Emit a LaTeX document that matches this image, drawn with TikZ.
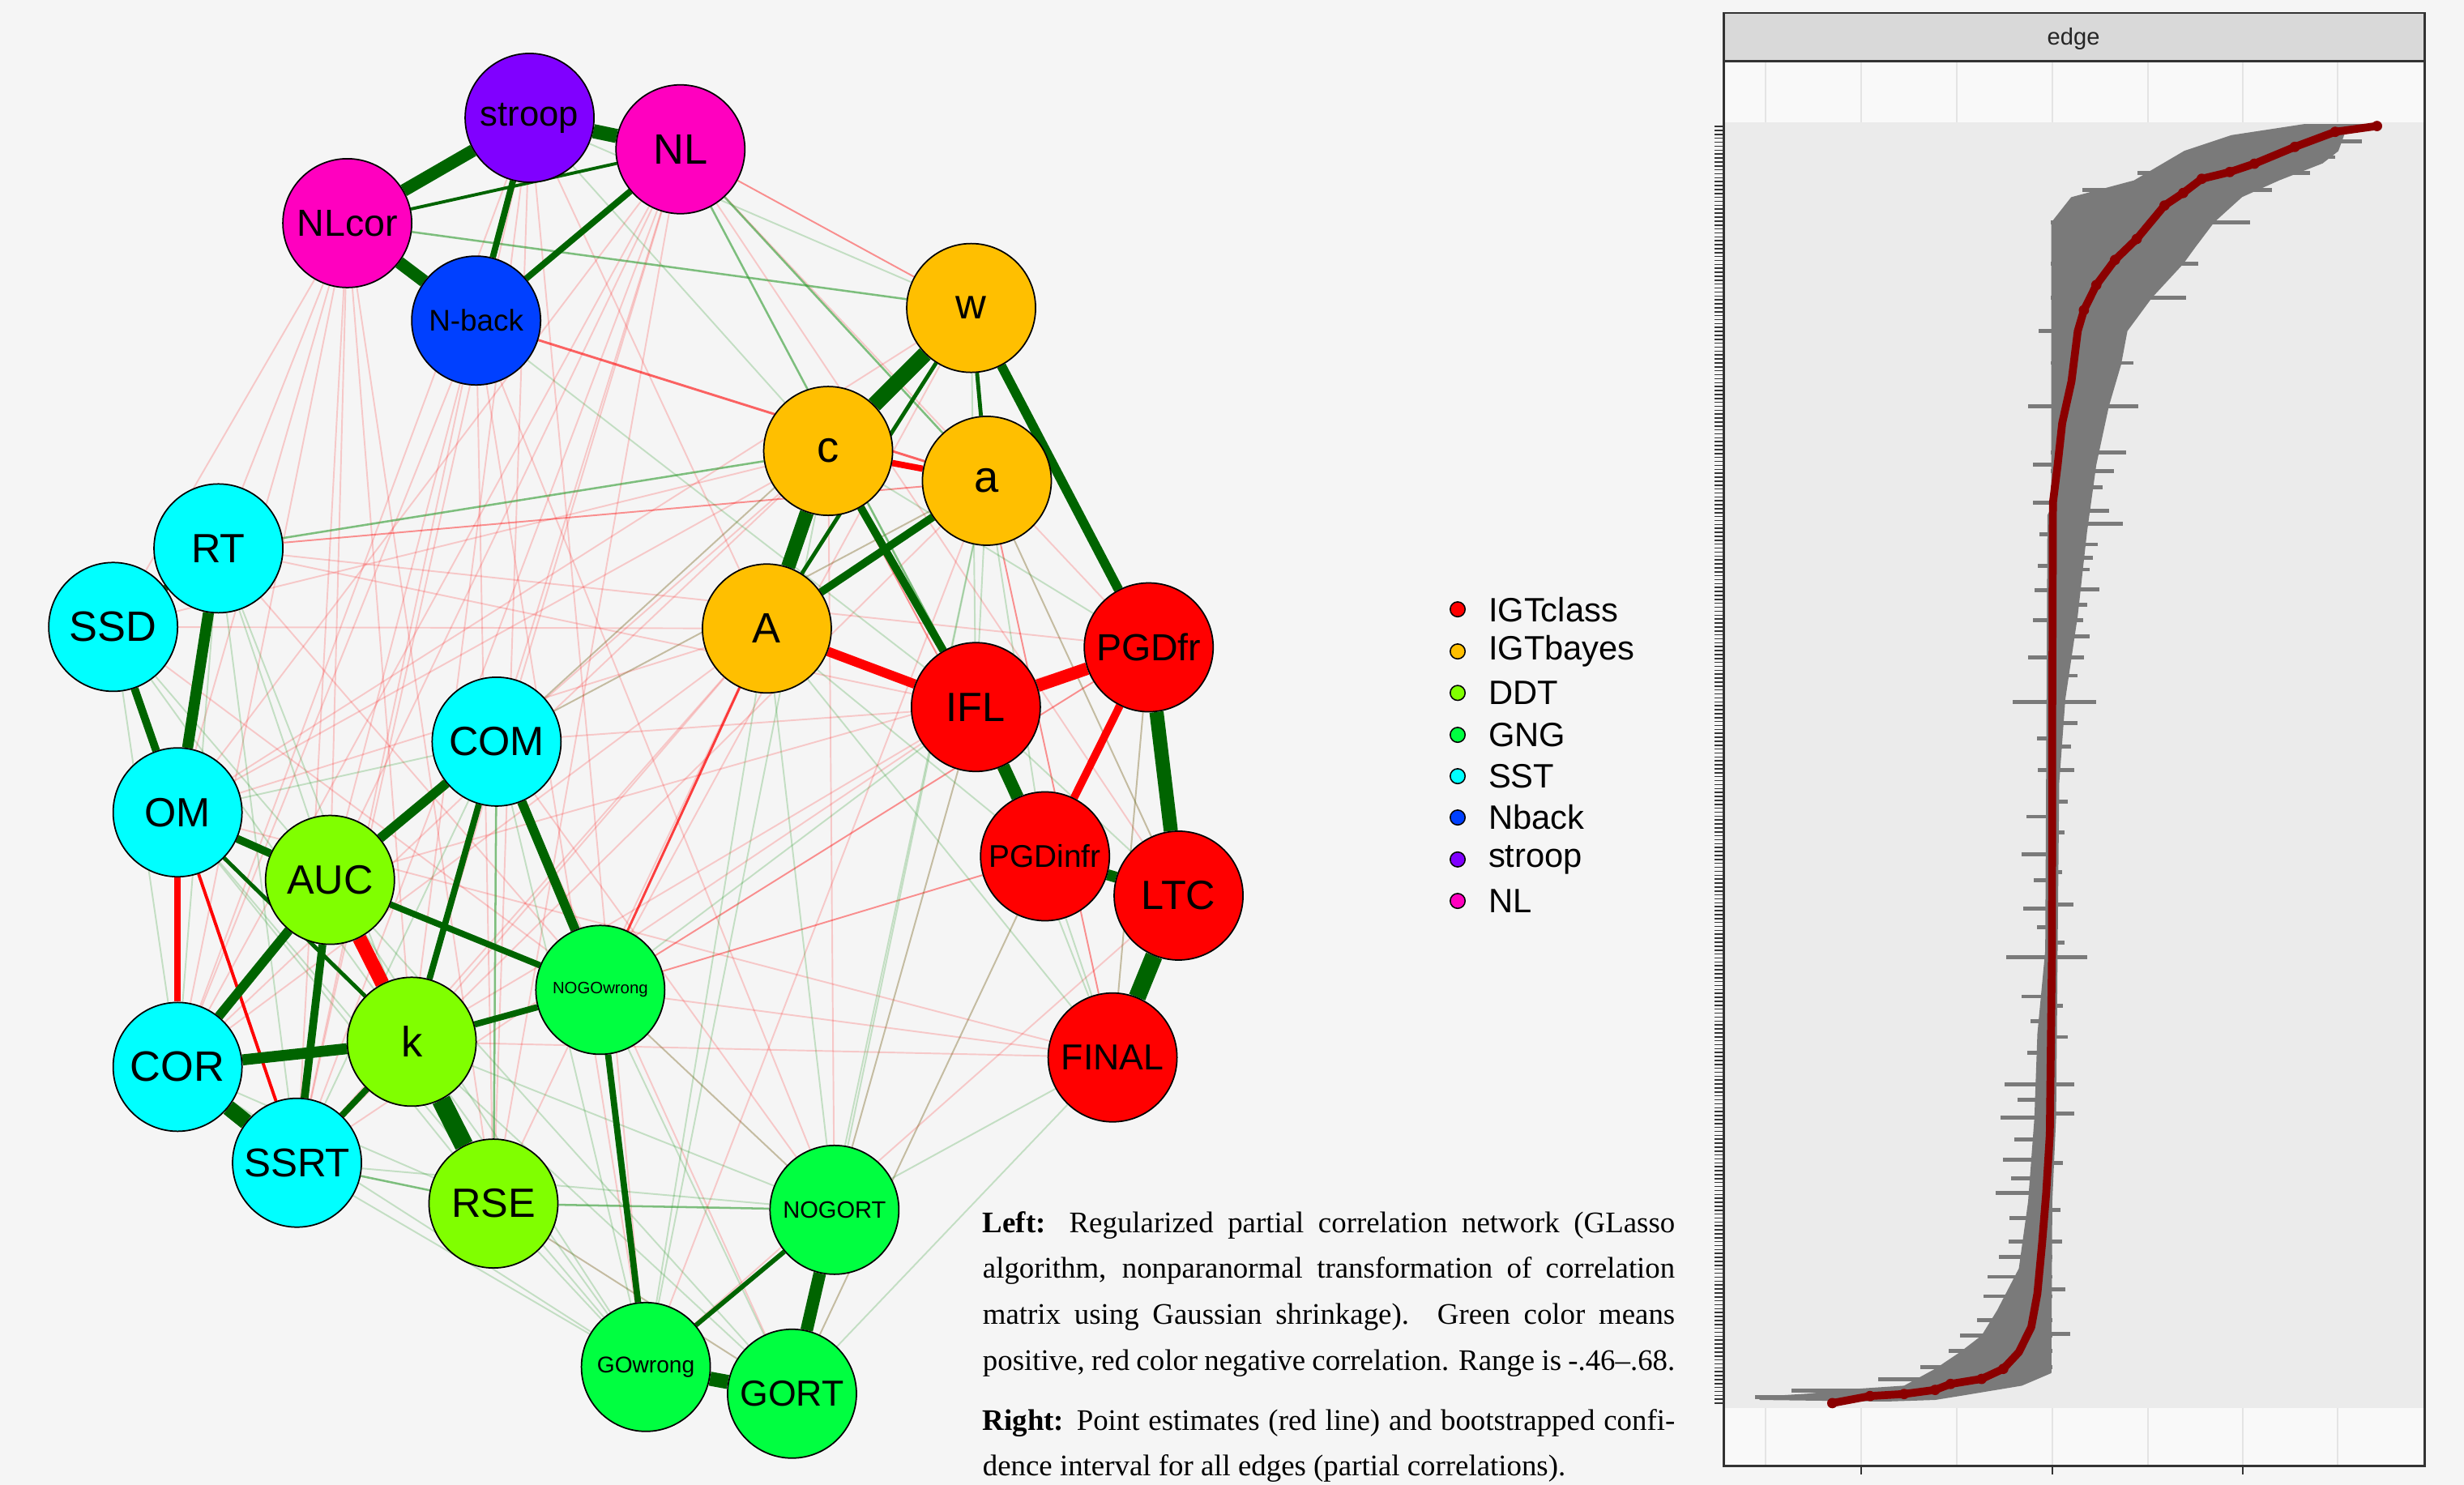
\documentclass[tikz,border=0pt]{standalone}
\usepackage{fontspec}
\setmainfont{Liberation Serif}
\newfontfamily\arial{Liberation Sans}
\usetikzlibrary{backgrounds}
\definecolor{pagebg}{HTML}{F5F5F5}
\definecolor{cClass}{HTML}{FF0000}
\definecolor{cBayes}{HTML}{FFBF00}
\definecolor{cDDT}{HTML}{80FF00}
\definecolor{cGNG}{HTML}{00FF40}
\definecolor{cSST}{HTML}{00FFFF}
\definecolor{cNback}{HTML}{0040FF}
\definecolor{cStroop}{HTML}{8000FF}
\definecolor{cNL}{HTML}{FF00BF}
\definecolor{dkgreen}{HTML}{006400}
\definecolor{ltgreen}{HTML}{2E9A2E}
\definecolor{ciGray}{HTML}{7A7A7A}
\definecolor{ptRed}{HTML}{8B0000}
\definecolor{bandbg}{HTML}{EBEBEB}
\definecolor{stripbg}{HTML}{D9D9D9}
\definecolor{framec}{HTML}{333333}
\definecolor{gridc}{HTML}{E4E4E4}
\tikzset{
  vn/.style={circle, draw=black, line width=0.9pt, minimum size=82pt, inner sep=0pt,
    font=\arial\fontsize{#1}{#1}\selectfont},
  posedge/.style={draw=dkgreen, line width=#1},
  negedge/.style={draw=red, line width=#1},
  fg/.style={draw=ltgreen, line width=1pt, opacity=#1},
  fr/.style={draw=red, line width=1pt, opacity=#1},
  legdot/.style={circle, draw=black, line width=0.8pt, minimum size=9.5pt, inner sep=0pt},
  legtext/.style={anchor=west, inner sep=0pt, font=\arial\fontsize{21.5}{21.5}\selectfont},
  captext/.style={anchor=base west, inner sep=0pt, font=\fontsize{19}{19}\selectfont},
  cibar/.style={fill=ciGray},
}
\begin{document}
\begin{tikzpicture}[x=1pt,y=-1pt]
\useasboundingbox (0,0) rectangle (1568,945.1);

% ---------------- network nodes ----------------
\node[vn=22.5, fill=cStroop] (stroop) at (337,75) {stroop};
\node[vn=27, fill=cNL] (NL) at (433,95) {NL};
\node[vn=24, fill=cNL] (NLcor) at (221,142) {NLcor};
\node[vn=19, fill=cNback] (Nback) at (303,204) {N-back};
\node[vn=27, fill=cBayes] (w) at (618,196) {w};
\node[vn=28, fill=cBayes] (c) at (527,287) {c};
\node[vn=28, fill=cBayes] (a) at (628,306) {a};
\node[vn=27, fill=cBayes] (A) at (488,400) {A};
\node[vn=24, fill=cClass] (PGDfr) at (731,412) {PGDfr};
\node[vn=26, fill=cClass] (IFL) at (621,450) {IFL};
\node[vn=20, fill=cClass] (PGDinfr) at (665,545) {PGDinfr};
\node[vn=26, fill=cClass] (LTC) at (750,570) {LTC};
\node[vn=23, fill=cClass] (FINAL) at (708,673) {FINAL};
\node[vn=26, fill=cSST] (RT) at (139,349) {RT};
\node[vn=27, fill=cSST] (SSD) at (72,399) {SSD};
\node[vn=26, fill=cSST] (OM) at (113,517) {OM};
\node[vn=26, fill=cSST] (COM) at (316,472) {COM};
\node[vn=26, fill=cDDT] (AUC) at (210,560) {AUC};
\node[vn=10.5, fill=cGNG] (NOGOwrong) at (382,630) {NOGOwrong};
\node[vn=27, fill=cSST] (COR) at (113,679) {COR};
\node[vn=27, fill=cDDT] (k) at (262,663) {k};
\node[vn=25.5, fill=cSST] (SSRT) at (189,740) {SSRT};
\node[vn=26, fill=cDDT] (RSE) at (314,766) {RSE};
\node[vn=15, fill=cGNG] (NOGORT) at (531,770) {NOGORT};
\node[vn=14.5, fill=cGNG] (GOwrong) at (411,870) {GOwrong};
\node[vn=23, fill=cGNG] (GORT) at (504,887) {GORT};

% ---------------- edges (behind nodes) ----------------
\begin{scope}[on background layer]
\fill[pagebg] (0,0) rectangle (1568,945.1);
% faint negative edges
\foreach \p/\q in {NLcor/OM, NLcor/COR, NLcor/SSRT, NLcor/AUC, NLcor/k, NLcor/RSE, NLcor/SSD, NLcor/RT,
  NL/COR, NL/SSRT, NL/AUC, NL/k, NL/RSE, NL/OM, NL/COM, NL/PGDfr, NL/LTC,
  stroop/COR, stroop/SSRT, stroop/k, stroop/RSE, stroop/AUC, stroop/GOwrong, stroop/A,
  Nback/RSE, Nback/GOwrong, Nback/NOGORT, Nback/SSRT, Nback/COR,
  RT/IFL, RT/PGDfr, RT/NOGOwrong, SSD/c, SSD/A, SSD/NOGOwrong,
  A/COR, A/SSRT, A/RSE, A/OM, A/k, c/OM, c/COR, c/COM, c/NOGORT,
  a/SSRT, a/COM, a/GOwrong, a/LTC, w/OM, w/COM, w/NOGOwrong,
  IFL/COM, IFL/SSRT, IFL/k, IFL/NOGORT, PGDfr/AUC, PGDfr/FINAL,
  PGDinfr/GORT, LTC/GOwrong, FINAL/OM, FINAL/NOGOwrong, FINAL/k,
  COM/NOGORT, COM/GORT, RSE/GORT, NOGOwrong/NOGORT}
  {\draw[fr=0.18] (\p) -- (\q);}
\foreach \p/\q in {NL/w, RT/a, PGDinfr/NOGOwrong, c/PGDinfr, a/FINAL, PGDfr/NOGOwrong}
  {\draw[fr=0.42] (\p) -- (\q);}
\draw[fr=0.6, line width=1.5pt] (Nback) -- (a);
\draw[fr=0.75, line width=1.5pt] (A) -- (NOGOwrong);
% faint positive edges
\foreach \p/\q in {stroop/w, stroop/c, Nback/IFL,
  RT/AUC, RT/k, RT/COR, RT/SSRT, SSD/AUC, SSD/k, SSD/SSRT, SSD/COR,
  OM/NOGOwrong, OM/RSE, OM/GOwrong, COM/a, COM/w, COM/GOwrong, COM/SSRT, COM/OM,
  AUC/GOwrong, AUC/RSE, AUC/GORT, k/GOwrong, k/NOGORT, k/GORT,
  SSRT/GOwrong, SSRT/NOGORT, COR/RSE, COR/GOwrong,
  RSE/GOwrong, RSE/GORT, NOGOwrong/NOGORT, NOGOwrong/GORT, NOGOwrong/IFL,
  A/GOwrong, A/NOGORT, c/GOwrong, a/GORT, a/NOGORT,
  w/IFL, a/IFL, a/PGDinfr, a/LTC, IFL/LTC, IFL/FINAL, PGDinfr/FINAL, PGDfr/FINAL,
  NOGORT/IFL, GORT/PGDinfr, GORT/FINAL, NOGORT/FINAL, c/PGDfr, A/PGDinfr, A/FINAL}
  {\draw[fg=0.25] (\p) -- (\q);}
\foreach \p/\q in {NLcor/w, NL/IFL, NL/a, RT/c, SSRT/RSE, RSE/NOGORT, COM/RSE}
  {\draw[fg=0.6, line width=1.3pt] (\p) -- (\q);}
% strong edges
\draw[posedge=9] (stroop) -- (NL);
\draw[posedge=8] (stroop) -- (NLcor);
\draw[posedge=8] (NLcor) -- (Nback);
\draw[posedge=4] (stroop) -- (Nback);
\draw[posedge=4] (NL) -- (Nback);
\draw[posedge=2] (NL) -- (NLcor);
\draw[posedge=10] (w) -- (c);
\draw[posedge=6] (w) -- (PGDfr);
\draw[posedge=2.5] (w) -- (a);
\draw[posedge=2.5] (w) -- (A);
\draw[negedge=4] (c) -- (a);
\draw[posedge=9] (c) -- (A);
\draw[posedge=5] (a) -- (A);
\draw[posedge=5] (c) -- (IFL);
\draw[negedge=6] (A) -- (IFL);
\draw[negedge=8] (IFL) -- (PGDfr);
\draw[negedge=5] (PGDfr) -- (PGDinfr);
\draw[posedge=9] (PGDfr) -- (LTC);
\draw[posedge=8] (IFL) -- (PGDinfr);
\draw[posedge=7] (PGDinfr) -- (LTC);
\draw[posedge=11] (LTC) -- (FINAL);
\draw[posedge=7] (RT) -- (OM);
\draw[posedge=5] (SSD) -- (OM);
\draw[posedge=4] (RT) -- (SSD);
\draw[posedge=5] (OM) -- (AUC);
\draw[negedge=4] (OM) -- (COR);
\draw[negedge=2] (OM) -- (SSRT);
\draw[posedge=2.5] (OM) -- (k);
\draw[posedge=6] (COM) -- (AUC);
\draw[posedge=4] (COM) -- (k);
\draw[posedge=6] (COM) -- (NOGOwrong);
\draw[negedge=9] (AUC) -- (k);
\draw[posedge=6] (AUC) -- (COR);
\draw[posedge=5] (AUC) -- (SSRT);
\draw[posedge=4] (AUC) -- (NOGOwrong);
\draw[posedge=7] (COR) -- (k);
\draw[posedge=10] (COR) -- (SSRT);
\draw[posedge=4] (k) -- (SSRT);
\draw[posedge=12] (k) -- (RSE);
\draw[posedge=4] (k) -- (NOGOwrong);
\draw[posedge=4] (NOGOwrong) -- (GOwrong);
\draw[posedge=3] (NOGORT) -- (GOwrong);
\draw[posedge=8] (NOGORT) -- (GORT);
\draw[posedge=9] (GOwrong) -- (GORT);
\end{scope}

% ---------------- legend ----------------
\node[legdot, fill=cClass] (d1) at (927.6,387.8) {};
\node[legdot, fill=cBayes] (d2) at (927.6,414.6) {};
\node[legdot, fill=cDDT] (d3) at (927.6,441) {};
\node[legdot, fill=cGNG] (d4) at (927.6,467.7) {};
\node[legdot, fill=cSST] (d5) at (927.6,494) {};
\node[legdot, fill=cNback] (d6) at (927.6,520.3) {};
\node[legdot, fill=cStroop] (d7) at (927.6,547) {};
\node[legdot, fill=cNL] (d8) at (927.6,573.4) {};
\node[legtext] (l1) at (947,387.8) {IGTclass};
\node[legtext] (l2) at (947,414.6) {IGTbayes};
\node[legtext] (l3) at (947,441) {DDT};
\node[legtext] (l4) at (947,467.7) {GNG};
\node[legtext] (l5) at (947,494) {SST};
\node[legtext] (l6) at (947,520.3) {Nback};
\node[legtext] (l7) at (947,547) {stroop};
\node[legtext] (l8) at (947,573.4) {NL};

% ---------------- right panel ----------------
\fill[pagebg!60!white] (1097,39) rectangle (1543,933);
\foreach \gx in {1123.6,1184.5,1245.3,1306.1,1366.7,1427.3,1487.7}
  {\draw[gridc, line width=0.9pt] (\gx,39) -- (\gx,933);}
\fill[bandbg] (1097,77.7) rectangle (1543,896);
% CI band
\fill[ciGray] (1466,79) -- (1515.6,79) -- (1515.6,81.5) -- (1491.9,85.5) -- (1488,96.2) -- (1478,104)
  -- (1450.4,114.8) -- (1426.8,125.4) -- (1409,141.5) -- (1397,157.4) -- (1389.3,168)
  -- (1369.5,189.4) -- (1353.8,210.7) -- (1349.8,232) -- (1342,258.6) -- (1334,295.9)
  -- (1328.1,338.6) -- (1322.2,391.8) -- (1314.3,445) -- (1310.4,498.4) -- (1309.4,604.9)
  -- (1308.4,711.4) -- (1306,764.7) -- (1305.4,873.9) -- (1286.7,881.9) -- (1250,888)
  -- (1231.4,891) -- (1200,892) -- (1120,891) -- (1118,889) -- (1150,887) -- (1180,884)
  -- (1211.7,881.9) -- (1231.4,871.2) -- (1247.2,860.6) -- (1261,850) -- (1270.9,833.9)
  -- (1284.7,807.3) -- (1290.6,764.7) -- (1294.6,711.4) -- (1296.5,658) -- (1301.5,604.9)
  -- (1302.9,327.9) -- (1305.4,322.6) -- (1305.4,141.5) -- (1318,125.5) -- (1358,114.8)
  -- (1390,96) -- (1420,86) -- cycle;
% spikes with explicit start and end
\foreach \yy/\xa/\xb in {90/1420/1503,100/1388/1486,110/1360/1470,121/1325/1446,
  141.5/1305/1431.7,168/1305/1399,189.4/1305/1391.2,231/1305/1357.7,258.6/1305/1360.7,
  287.9/1305/1352.8,300/1305/1345,310/1305/1338,325/1305/1342,333.2/1305/1350.8,
  346.5/1305/1335,355/1305/1332,362.5/1305/1330,375/1305/1336,385/1305/1328,
  394.5/1305/1325.7,405/1305/1330,418.5/1305/1326.1,430/1305/1322,446.7/1305/1334,
  460/1305/1322,475/1305/1318,490/1305/1320,510/1305/1316,530/1305/1314,555/1305/1312,
  575.6/1305/1319.2,600/1305/1314,609.2/1305/1328.1,640/1305/1313,660/1305/1316,
  690.1/1305/1320.2,708.8/1305/1320.2,740/1305/1313,770/1305/1311,790/1305/1312,
  820.6/1305/1314.3,848.9/1305/1317.3,
  210.7/1297.5/1306,258.6/1290.6/1306,295.9/1293.6/1306,319.9/1293.6/1306,340/1298/1306,
  360/1297/1306,375.8/1294.6/1306,394.5/1293.6/1306,418.5/1290.6/1306,446.7/1280.8/1306,
  470/1296/1306,490/1297/1306,519.7/1289.6/1306,543.6/1286.7/1306,560/1294/1306,
  578.3/1287.7/1306,590/1296/1306,609.2/1276.8/1306,634.2/1286.7/1306,650/1292/1306,
  670/1290/1306,690.1/1275.8/1306,700/1284/1306,711.4/1272.9/1306,725/1282/1306,
  738.1/1274.8/1306,750/1280/1306,759.4/1269.9/1306,775.4/1278.8/1306,790/1278/1306,
  800/1272/1306,812.6/1265/1306,825/1262/1306,840/1258/1306,850/1247.2/1306,
  860/1240/1306,870/1222/1306,878/1195/1290,885/1140/1240,889/1117/1200}
  {\fill[cibar] (\xa,\yy-1.25) rectangle (\xb,\yy+1.25);}
% point estimates
\draw[ptRed, line width=5pt, line join=round, line cap=round]
  (1512.6,80.2) -- (1486,83.9) -- (1460.3,93.5) -- (1434.6,104.2) -- (1418.9,109.5)
  -- (1401.1,113.8) -- (1389.3,122.8) -- (1377.4,130.8) -- (1359.7,152.1) -- (1345.9,165.4)
  -- (1334,181.4) -- (1326.1,197.4) -- (1322.2,210.7) -- (1318.2,242.7) -- (1312.3,269.3)
  -- (1309.4,295.9) -- (1306.4,319.9) -- (1306,445) -- (1305.8,605) -- (1304.4,722.1)
  -- (1302.1,759.4) -- (1299.5,791.3) -- (1296.5,823.3) -- (1292.6,844.6) -- (1284.7,860.6)
  -- (1274.8,871.2) -- (1261,877.6) -- (1241.3,880.8) -- (1231.4,884.6) -- (1211.7,887.2)
  -- (1190,888.5) -- (1166,893);
\foreach \px/\py in {1512.6/80.2,1486/83.9,1460.3/93.5,1434.6/104.2,1418.9/109.5,1401.1/113.8,
  1389.3/122.8,1377.4/130.8,1359.7/152.1,1345.9/165.4,1334/181.4,1326.1/197.4,
  1274.8/871.2,1261/877.6,1241.3/880.8,1231.4/884.6,1211.7/887.2,1190/888.5,1166/893}
  {\fill[ptRed] (\px,\py) circle (3.3pt);}
% axis ticks
\foreach \i in {0,...,324}
  {\draw[framec, line width=0.8pt] (1091,{80.5+\i*2.508}) -- (1097,{80.5+\i*2.508});}
\foreach \gx in {1184.5,1306.1,1427.3}
  {\draw[framec, line width=1.2pt] (\gx,933) -- (\gx,938.5);}
% strip and frame
\draw[framec, line width=1.2pt, fill=stripbg] (1097,8.3) rectangle (1543,39);
\node[font=\arial\fontsize{15}{15}\selectfont, text=black!85] (striplabel) at (1319.5,24.5) {edge};
\draw[framec, line width=1.2pt] (1097,39) rectangle (1543,933);

% ---------------- caption ----------------
\node[captext] (cap1) at (625.2,784.6) {\makebox[440.5pt][s]{\textbf{Left:} Regularized partial correlation network (GLasso}};
\node[captext] (cap2) at (625.2,813.6) {\makebox[440.5pt][s]{algorithm, nonparanormal transformation of correlation}};
\node[captext] (cap3) at (625.2,842.6) {\makebox[440.5pt][s]{matrix using Gaussian shrinkage). Green color means}};
\node[captext] (cap4) at (625.2,872.0) {\makebox[440.5pt][s]{positive, red color negative correlation. Range is -.46–.68.}};
\node[captext] (cap5) at (625.2,910.2) {\makebox[440.5pt][s]{\textbf{Right:} Point estimates (red line) and bootstrapped confi-}};
\node[captext] (cap6) at (625.2,939.3) {dence interval for all edges (partial correlations).};
\end{tikzpicture}
\end{document}
